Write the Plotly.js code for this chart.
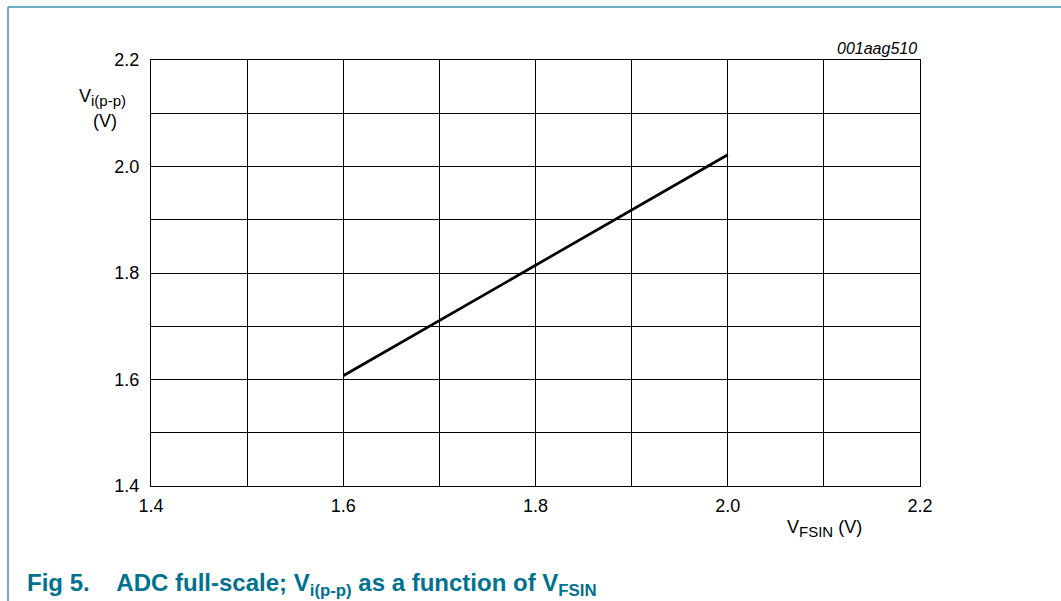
<!DOCTYPE html>
<html>
<head>
<meta charset="utf-8">
<script src="https://cdn.plot.ly/plotly-3.0.1.min.js"></script>
<style>
html,body{margin:0;padding:0;background:#fff;}
#chart{width:1061px;height:601px;}
</style>
</head>
<body>
<div id="chart"></div>
<script>
// Data
const vfsin = [1.6, 2.0];          // V_FSIN (V)
const vipp  = [1.607, 2.022];      // V_i(p-p) (V)
const xTicks = [1.4, 1.6, 1.8, 2.0, 2.2];
const yTicks = [1.4, 1.6, 1.8, 2.0, 2.2];
const xTickText = ['1.4', '1.6', '1.8', '2.0', '2.2'];
const yTickText = ['1.4', '1.6', '1.8', '2.0', '2.2'];

const FONT = 'Liberation Sans, Arial, sans-serif';
const TEAL = '#00718f';
const FRAME = '#3b94b4';

const L = 151, R = 920, T = 60, B = 486, W = 1061, H = 601;
const px = x => (x - L) / (R - L);
const py = y => (B - y) / (B - T);

const trace = {
  x: vfsin, y: vipp, type: 'scatter', mode: 'lines',
  line: {color: '#000', width: 2.7}, hoverinfo: 'skip', showlegend: false
};

const axisCommon = {
  showline: true, mirror: true, linecolor: '#000', linewidth: 1,
  showgrid: true, gridcolor: '#000', gridwidth: 1,
  zeroline: false, ticks: '', tickfont: {family: FONT, size: 18, color: '#000'},
  tickmode: 'array'
};

const layout = {
  width: W, height: H,
  margin: {l: L, r: W - R, t: T, b: H - B, pad: 0},
  paper_bgcolor: '#fff', plot_bgcolor: '#fff',
  xaxis: Object.assign({}, axisCommon, {
    range: [1.4, 2.2], tickvals: xTicks, ticktext: xTickText,
    minor: {dtick: 0.1, tick0: 1.4, showgrid: true, gridcolor: '#000', gridwidth: 1, ticks: ''},
    ticklabelstandoff: 3
  }),
  yaxis: Object.assign({}, axisCommon, {
    range: [1.4, 2.2], tickvals: yTicks, ticktext: yTickText,
    minor: {dtick: 0.1, tick0: 1.4, showgrid: true, gridcolor: '#000', gridwidth: 1, ticks: ''},
    ticklabelstandoff: 7
  }),
  shapes: [
    {type: 'line', xref: 'paper', yref: 'paper', x0: px(8), x1: px(8), y0: py(7), y1: py(H + 5),
     line: {color: FRAME, width: 1.5}},
    {type: 'line', xref: 'paper', yref: 'paper', x0: px(8), x1: px(W + 5), y0: py(7), y1: py(7),
     line: {color: FRAME, width: 1.5}}
  ],
  annotations: [
    {xref: 'paper', yref: 'paper', x: px(919), y: py(48), xanchor: 'right', yanchor: 'middle',
     text: '<i>001aag510</i>', showarrow: false, font: {family: FONT, size: 16, color: '#000'}},
    {xref: 'paper', yref: 'paper', x: px(102), y: py(97), xanchor: 'center', yanchor: 'middle',
     text: 'V<sub><span style="font-size:15px">i(p-p)</span></sub>', showarrow: false,
     font: {family: FONT, size: 18, color: '#000'}},
    {xref: 'paper', yref: 'paper', x: px(105), y: py(121), xanchor: 'center', yanchor: 'middle',
     text: '(V)', showarrow: false, font: {family: FONT, size: 18, color: '#000'}},
    {xref: 'paper', yref: 'paper', x: px(824), y: py(528), xanchor: 'center', yanchor: 'middle',
     text: 'V<sub><span style="font-size:15px">FSIN</span></sub> (V)', showarrow: false,
     font: {family: FONT, size: 18, color: '#000'}},
    {xref: 'paper', yref: 'paper', x: px(25), y: py(584), xanchor: 'left', yanchor: 'middle',
     text: '<b>Fig 5.&nbsp;&nbsp;&nbsp;&nbsp;ADC full-scale; V<sub>i(p-p)</sub> as a function of V<sub>FSIN</sub></b>',
     showarrow: false, font: {family: FONT, size: 24, color: TEAL}}
  ]
};

Plotly.newPlot('chart', [trace], layout, {displayModeBar: false, staticPlot: true});
</script>
</body>
</html>
